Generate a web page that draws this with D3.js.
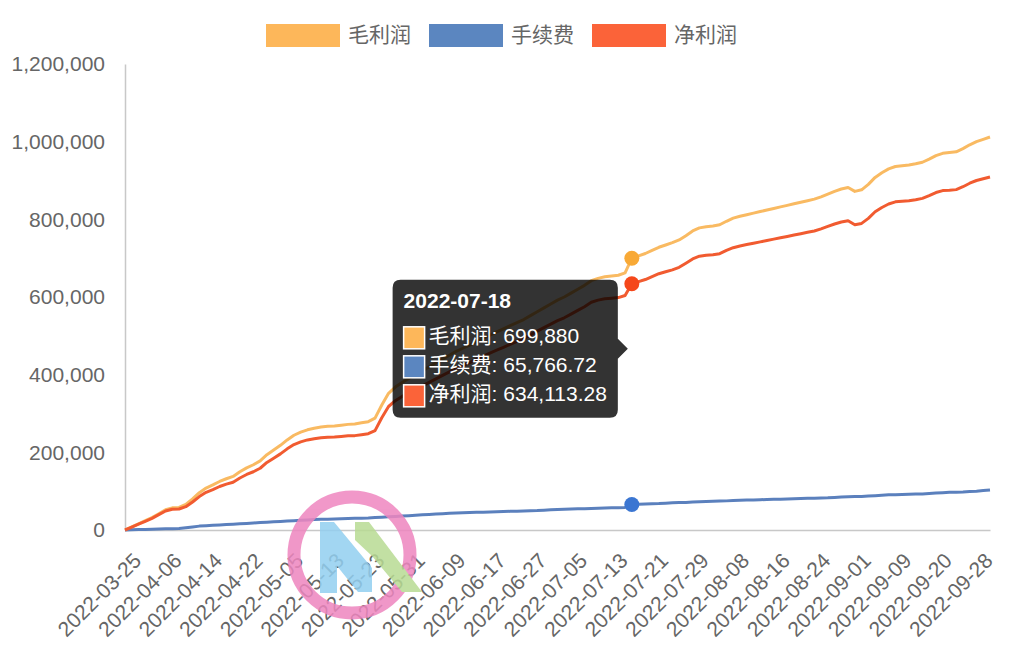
<!DOCTYPE html>
<html>
<head>
<meta charset="utf-8">
<script src="https://cdn.jsdelivr.net/npm/d3@7"></script>
<style>
  body { margin: 0; background: #fff; }
  text { font-family: "Liberation Sans", "Noto Sans CJK SC", sans-serif; }
</style>
</head>
<body>
<div id="chart"></div>
<script>
// trading days shown on the category axis
const dates = [
  '2022-03-25','2022-03-28','2022-03-29','2022-03-30','2022-03-31','2022-04-01','2022-04-06','2022-04-07','2022-04-08','2022-04-11',
  '2022-04-12','2022-04-13','2022-04-14','2022-04-15','2022-04-18','2022-04-19','2022-04-20','2022-04-21','2022-04-22','2022-04-25',
  '2022-04-26','2022-04-27','2022-04-28','2022-04-29','2022-05-05','2022-05-06','2022-05-09','2022-05-10','2022-05-11','2022-05-12',
  '2022-05-13','2022-05-16','2022-05-17','2022-05-18','2022-05-19','2022-05-20','2022-05-23','2022-05-24','2022-05-25','2022-05-26',
  '2022-05-27','2022-05-30','2022-05-31','2022-06-01','2022-06-02','2022-06-06','2022-06-07','2022-06-08','2022-06-09','2022-06-10',
  '2022-06-13','2022-06-14','2022-06-15','2022-06-16','2022-06-17','2022-06-20','2022-06-21','2022-06-22','2022-06-23','2022-06-24',
  '2022-06-27','2022-06-28','2022-06-29','2022-06-30','2022-07-01','2022-07-04','2022-07-05','2022-07-06','2022-07-07','2022-07-08',
  '2022-07-11','2022-07-12','2022-07-13','2022-07-14','2022-07-15','2022-07-18','2022-07-19','2022-07-20','2022-07-21','2022-07-22',
  '2022-07-25','2022-07-26','2022-07-27','2022-07-28','2022-07-29','2022-08-01','2022-08-02','2022-08-03','2022-08-04','2022-08-05',
  '2022-08-08','2022-08-09','2022-08-10','2022-08-11','2022-08-12','2022-08-15','2022-08-16','2022-08-17','2022-08-18','2022-08-19',
  '2022-08-22','2022-08-23','2022-08-24','2022-08-25','2022-08-26','2022-08-29','2022-08-30','2022-08-31','2022-09-01','2022-09-02',
  '2022-09-05','2022-09-06','2022-09-07','2022-09-08','2022-09-09','2022-09-13','2022-09-14','2022-09-15','2022-09-16','2022-09-19',
  '2022-09-20','2022-09-21','2022-09-22','2022-09-23','2022-09-26','2022-09-27','2022-09-28','2022-09-29','2022-09-30'
];

// 毛利润
const grossProfit = [
  0, 8000, 16000, 24000, 32000, 42000, 52000, 57000, 58000, 66000,
  80000, 96000, 108000, 116000, 125000, 132000, 138000, 150000, 160000, 168000,
  178000, 194000, 206000, 218000, 232000, 244000, 252000, 258000, 262000, 265000,
  267000, 268000, 270000, 272000, 273000, 276000, 279000, 288000, 322000, 352000,
  368000, 380000, 390000, 400000, 410000, 420000, 430000, 440000, 450000, 460000,
  468000, 476000, 485000, 494000, 502000, 510000, 518000, 526000, 534000, 542000,
  552000, 562000, 572000, 582000, 592000, 600000, 610000, 620000, 630000, 642000,
  648000, 652000, 654000, 656000, 662000, 699880, 706000, 712000, 720000, 728000,
  734000, 740000, 747000, 758000, 770000, 778000, 781000, 783000, 786000, 795000,
  803000, 808000, 812000, 816000, 820000, 824000, 828000, 832000, 836000, 840000,
  844000, 848000, 852000, 858000, 865000, 872000, 878000, 882000, 872000, 876000,
  890000, 908000, 920000, 930000, 936000, 938000, 940000, 943000, 947000, 955000,
  964000, 970000, 972000, 974000, 982000, 992000, 1000000, 1006000, 1012000
];

// 手续费
const fees = [
  0, 500, 1000, 1500, 2000, 2500, 3000, 3500, 4000, 6000,
  8000, 10000, 11000, 12000, 13000, 14000, 15000, 16000, 17000, 18000,
  19000, 20000, 21000, 22000, 23000, 24000, 25000, 26000, 27000, 27500,
  28000, 28500, 29000, 29500, 30000, 30500, 31000, 32000, 33000, 34000,
  35000, 36000, 37000, 38000, 39000, 40000, 41000, 42000, 43000, 44000,
  44500, 45000, 45500, 46000, 46500, 47000, 47500, 48000, 48500, 49000,
  49500, 50000, 51000, 52000, 53000, 53500, 54000, 54500, 55000, 55500,
  56000, 56500, 57000, 57500, 58000, 65766.72, 66500, 67000, 67500, 68000,
  69000, 70000, 70500, 71000, 72000, 73000, 73500, 74000, 74500, 75000,
  76000, 76500, 77000, 77500, 78000, 78500, 79000, 79500, 80000, 80500,
  81000, 81500, 82000, 82500, 83000, 84000, 85000, 85500, 86000, 86500,
  87500, 88500, 89500, 90500, 91000, 91500, 92000, 92500, 93000, 94000,
  95000, 96000, 97000, 97500, 98000, 99000, 100000, 101500, 103000
];

// 净利润
const netProfit = [
  0, 7500, 15000, 22500, 30000, 39500, 49000, 53500, 54000, 60000,
  72000, 86000, 97000, 104000, 112000, 118000, 123000, 134000, 143000, 150000,
  159000, 174000, 185000, 196000, 209000, 220000, 227000, 232000, 235000, 237500,
  239000, 239500, 241000, 242500, 243000, 245500, 248000, 256000, 289000, 318000,
  333000, 344000, 353000, 362000, 371000, 380000, 389000, 398000, 407000, 416000,
  423500, 431000, 439500, 448000, 455500, 463000, 470500, 478000, 485500, 493000,
  502500, 512000, 521000, 530000, 539000, 546500, 556000, 565500, 575000, 586500,
  592000, 595500, 597000, 598500, 604000, 634113.28, 639500, 645000, 652500, 660000,
  665000, 670000, 676500, 687000, 698000, 705000, 707500, 709000, 711500, 720000,
  727000, 731500, 735000, 738500, 742000, 745500, 749000, 752500, 756000, 759500,
  763000, 766500, 770000, 775500, 782000, 788000, 793000, 796500, 786000, 789500,
  802500, 819500, 830500, 839500, 845000, 846500, 848000, 850500, 854000, 861000,
  869000, 874000, 875000, 876500, 884000, 893000, 900000, 904500, 909000
];

const seriesNames = ['毛利润', '手续费', '净利润'];
const yTicks = [0, 200000, 400000, 600000, 800000, 1000000, 1200000];
const tooltipDate = '2022-07-18';

const lineColors = ['#f9ba62', '#5b80bd', '#f15b30'];
const boxColors = ['#fdb75a', '#5b86c0', '#fb6339'];
const dotColors = ['#f8a936', '#3b76d2', '#f5471a'];

const series = seriesNames.map((name, i) => ({
  name,
  values: [grossProfit, fees, netProfit][i],
  line: lineColors[i],
  box: boxColors[i],
  dot: dotColors[i]
}));

const W = 1024, H = 663;
const plot = {left: 125, right: 990, top: 64, bottom: 530};

const svg = d3.select('#chart').append('svg')
  .attr('width', W)
  .attr('height', H);

const x = d3.scalePoint()
  .domain(dates)
  .range([plot.left, plot.right]);

const y = d3.scaleLinear()
  .domain([0, 1200000])
  .range([plot.bottom, plot.top]);

// y axis
const yAxis = svg.append('g')
  .attr('transform', `translate(${plot.left}, 0)`)
  .call(d3.axisLeft(y).tickValues(yTicks).tickFormat(d3.format(',')).tickSize(0).tickPadding(20));
yAxis.select('.domain').attr('stroke', '#c8c8c8').attr('stroke-width', 1.5);
yAxis.selectAll('text')
  .attr('fill', '#666')
  .style('font-size', '21px');

// x axis
const xAxis = svg.append('g')
  .attr('transform', `translate(0, ${plot.bottom})`)
  .call(d3.axisBottom(x).tickValues(dates.filter((d, i) => i % 6 === 0)).tickSize(0).tickSizeOuter(0));
xAxis.select('.domain').attr('stroke', '#c8c8c8').attr('stroke-width', 1.5);
xAxis.selectAll('text')
  .attr('fill', '#666')
  .style('font-size', '21px')
  .attr('text-anchor', 'end')
  .attr('dominant-baseline', 'middle')
  .attr('y', 0)
  .attr('dy', null)
  .attr('transform', 'translate(13, 28) rotate(-45)');

// lines
const line = d3.line()
  .x((d, i) => x(dates[i]))
  .y(d => y(d));

series.forEach(s => {
  svg.append('path')
    .attr('d', line(s.values))
    .attr('fill', 'none')
    .attr('stroke', s.line)
    .attr('stroke-width', 3)
    .attr('stroke-linejoin', 'round');
});

// legend
const legend = svg.append('g')
  .attr('transform', 'translate(266, 24)');

series.forEach((s, i) => {
  const item = legend.append('g')
    .attr('transform', `translate(${i * 163}, 0)`);
  item.append('rect')
    .attr('width', 74)
    .attr('height', 23)
    .attr('fill', s.box);
  item.append('text')
    .attr('x', 82)
    .attr('y', 12)
    .attr('dominant-baseline', 'middle')
    .attr('fill', '#666')
    .style('font-size', '21px')
    .text(s.name);
});

// watermark
const mark = svg.append('g').attr('opacity', 0.85);
mark.append('circle')
  .attr('cx', 352).attr('cy', 555).attr('r', 58)
  .attr('fill', 'none').attr('stroke', '#ee86bf').attr('stroke-width', 13);
mark.append('polygon')
  .attr('points', '320,522 334,522 372,568 372,592 358,592 337,566 337,593 320,593')
  .attr('fill', '#92cff0');
mark.append('polygon')
  .attr('points', '355,522 369,522 422,592 402,592 372,556 355,540')
  .attr('fill', '#b8db93');

// hover dots + tooltip
const ti = dates.indexOf(tooltipDate);
const px = x(tooltipDate);

series.forEach(s => {
  svg.append('circle')
    .attr('cx', px)
    .attr('cy', y(s.values[ti]))
    .attr('r', 7.5)
    .attr('fill', s.dot);
});

const fmt = d3.format(',');
const tip = svg.append('g');
const tipBox = tip.append('path').attr('fill', 'rgba(0,0,0,0.8)');

const title = tip.append('text')
  .attr('fill', '#fff')
  .style('font-size', '21px')
  .style('font-weight', 'bold')
  .text(tooltipDate);

const rows = series.map(s => {
  const r = tip.append('g');
  r.append('rect')
    .attr('width', 21).attr('height', 22)
    .attr('fill', s.box)
    .attr('stroke', '#fff').attr('stroke-width', 1.5);
  r.append('text')
    .attr('x', 25)
    .attr('y', 11)
    .attr('dominant-baseline', 'middle')
    .attr('fill', '#fff')
    .style('font-size', '21px')
    .text(`${s.name}: ${fmt(+s.values[ti].toFixed(2))}`);
  return r;
});

const pad = 11, caret = 10, caretGap = 4, lineH = 29;
const contentW = Math.max(
  title.node().getComputedTextLength(),
  ...rows.map(r => 25 + r.select('text').node().getComputedTextLength())
);
const boxW = contentW + pad * 2;
const boxH = 138;
const midY = d3.mean(series, s => y(s.values[ti]));
const tipRight = px - caretGap - caret;
const tipLeft = tipRight - boxW;
const tipTop = midY - boxH / 2;
const rad = 8;

tipBox.attr('d', [
  `M${tipLeft + rad},${tipTop}`,
  `H${tipRight - rad}`, `Q${tipRight},${tipTop} ${tipRight},${tipTop + rad}`,
  `V${midY - caret}`, `L${tipRight + caret},${midY}`, `L${tipRight},${midY + caret}`,
  `V${tipTop + boxH - rad}`, `Q${tipRight},${tipTop + boxH} ${tipRight - rad},${tipTop + boxH}`,
  `H${tipLeft + rad}`, `Q${tipLeft},${tipTop + boxH} ${tipLeft},${tipTop + boxH - rad}`,
  `V${tipTop + rad}`, `Q${tipLeft},${tipTop} ${tipLeft + rad},${tipTop}`, 'Z'
].join(' '));

title.attr('x', tipLeft + pad).attr('y', tipTop + 28);
rows.forEach((r, i) => r.attr('transform', `translate(${tipLeft + pad}, ${tipTop + 47 + i * lineH})`));
</script>
</body>
</html>
